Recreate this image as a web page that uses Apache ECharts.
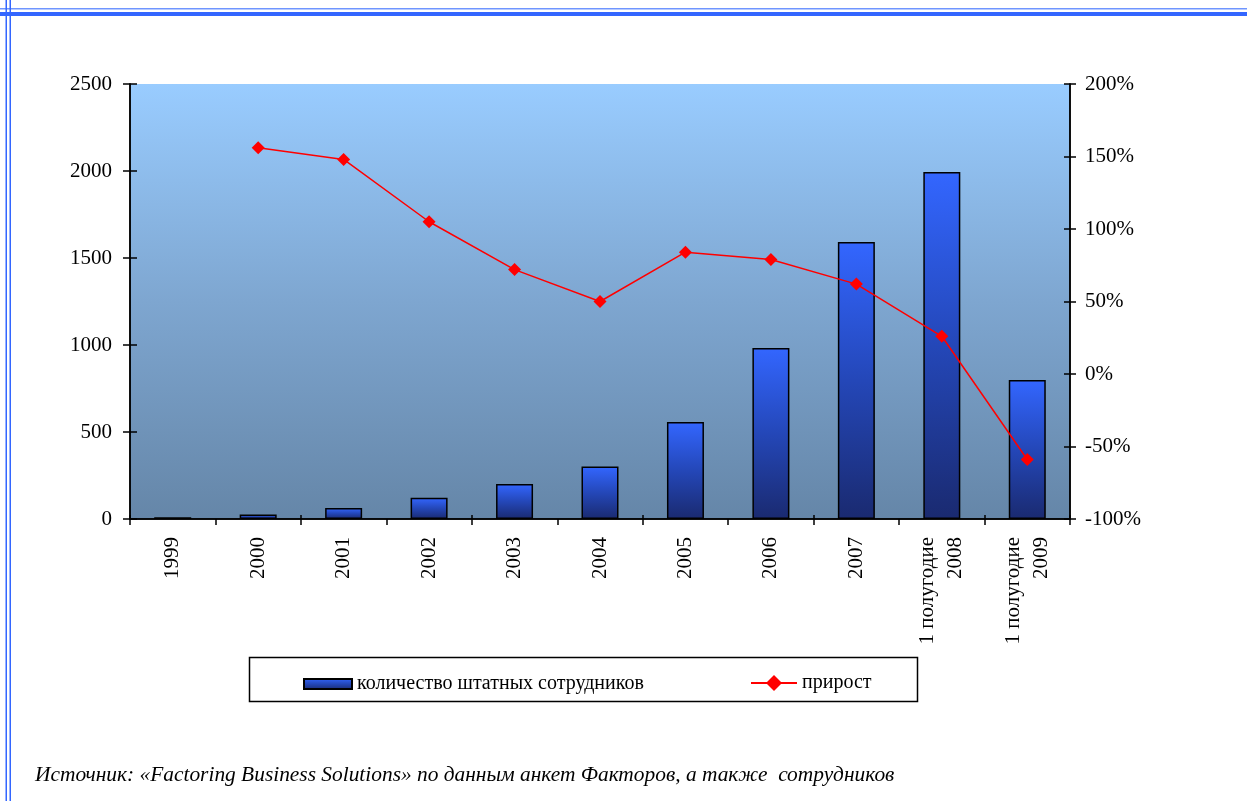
<!DOCTYPE html>
<html>
<head>
<meta charset="utf-8">
<script src="https://cdn.jsdelivr.net/npm/echarts@6/dist/echarts.min.js"></script>
<style>
  html, body { margin: 0; padding: 0; background: #ffffff; }
  #chart { width: 1247px; height: 801px; }
</style>
</head>
<body>
<div id="chart"></div>
<script>
// Categories (years / half-years)
const categories = ['1999', '2000', '2001', '2002', '2003', '2004', '2005', '2006', '2007',
  '1 полугодие\n2008', '1 полугодие\n2009'];
// Number of full-time employees
const staffCount = [10, 26, 63, 122, 201, 302, 557, 983, 1592, 1994, 799];
// Growth, %
const growthPct = [null, 156, 148, 105, 72, 50, 84, 79, 62, 26, -59];
// Axis tick settings
const leftAxis = { min: 0, max: 2500, interval: 500 };
const rightAxis = { min: -100, max: 200, interval: 50 };

const FONT = 'Liberation Serif';
const chart = echarts.init(document.getElementById('chart'), null, { renderer: 'canvas' });

const plotBox = { left: 130, right: 177, top: 84, bottom: 282 };

// Axis on the overlay grid that only draws short ticks on the inner side of the frame
const tickOnly = (extra, len) => Object.assign({
  gridIndex: 1,
  z: 6,
  axisLine: { show: true, onZero: false, lineStyle: { color: '#000', width: 1.5 } },
  axisLabel: { show: false },
  splitLine: { show: false },
  axisTick: { show: true, inside: true, length: len, lineStyle: { color: '#000', width: 1.5 } }
}, extra);

chart.setOption({
  animation: false,
  backgroundColor: '#ffffff',
  grid: [
    Object.assign({
      show: true,
      borderWidth: 0,
      z: 0,
      backgroundColor: {
        type: 'linear', x: 0, y: 0, x2: 0, y2: 1,
        colorStops: [
          { offset: 0, color: '#99ccff' },
          { offset: 0.5, color: '#7ea6d0' },
          { offset: 1, color: '#6586a8' }
        ]
      }
    }, plotBox),
    Object.assign({ show: false }, plotBox)
  ],
  legend: [
    {
      left: 303, top: 674, padding: 0,
      itemWidth: 48, itemHeight: 10,
      textStyle: { fontFamily: FONT, fontSize: 20, color: '#000' },
      data: [{ name: 'количество штатных сотрудников', icon: 'rect' }]
    },
    {
      left: 750, top: 673, padding: 0,
      itemWidth: 46, itemHeight: 20,
      textStyle: { fontFamily: FONT, fontSize: 20, color: '#000' },
      data: [{ name: 'прирост' }]
    }
  ],
  xAxis: [
    {
      type: 'category',
      gridIndex: 0,
      data: categories,
      boundaryGap: true,
      axisLine: { show: true, onZero: false, lineStyle: { color: '#000', width: 1.5 } },
      axisTick: { show: true, length: 6, lineStyle: { color: '#000', width: 1.5 } },
      axisLabel: {
        rotate: 90, margin: 18, interval: 0,
        fontFamily: FONT, fontSize: 21, color: '#000', lineHeight: 28
      },
      splitLine: { show: false }
    },
    tickOnly({ type: 'category', data: categories, boundaryGap: true, position: 'bottom' }, 4)
  ],
  yAxis: [
    {
      type: 'value', gridIndex: 0, position: 'left',
      min: leftAxis.min, max: leftAxis.max, interval: leftAxis.interval,
      axisLine: { show: true, lineStyle: { color: '#000', width: 1.5 } },
      axisTick: { show: true, length: 7, lineStyle: { color: '#000', width: 1.5 } },
      axisLabel: { margin: 18, formatter: (v) => String(v), fontFamily: FONT, fontSize: 21, color: '#000' },
      splitLine: { show: false }
    },
    {
      type: 'value', gridIndex: 0, position: 'right',
      min: rightAxis.min, max: rightAxis.max, interval: rightAxis.interval,
      axisLine: { show: true, lineStyle: { color: '#000', width: 1.5 } },
      axisTick: { show: true, length: 6, lineStyle: { color: '#000', width: 1.5 } },
      axisLabel: { margin: 15, formatter: '{value}%', fontFamily: FONT, fontSize: 21, color: '#000' },
      splitLine: { show: false }
    },
    tickOnly({ type: 'value', position: 'left', min: leftAxis.min, max: leftAxis.max, interval: leftAxis.interval }, 7),
    tickOnly({ type: 'value', position: 'right', min: rightAxis.min, max: rightAxis.max, interval: rightAxis.interval }, 6)
  ],
  series: [
    {
      name: 'количество штатных сотрудников',
      type: 'bar',
      xAxisIndex: 0,
      yAxisIndex: 0,
      barWidth: 37,
      data: staffCount,
      itemStyle: {
        color: {
          type: 'linear', x: 0, y: 0, x2: 0, y2: 1,
          colorStops: [
            { offset: 0, color: '#3366ff' },
            { offset: 0.5, color: '#2447b8' },
            { offset: 1, color: '#1a2a70' }
          ]
        },
        borderColor: '#000',
        borderWidth: 1.5
      }
    },
    {
      name: 'прирост',
      type: 'line',
      xAxisIndex: 0,
      yAxisIndex: 1,
      data: growthPct,
      symbol: 'diamond',
      symbolSize: 13,
      connectNulls: false,
      lineStyle: { color: '#ff0000', width: 1.5 },
      itemStyle: { color: '#ff0000' },
      z: 5
    },
    {
      // empty series that anchors the overlay grid carrying the inner ticks
      name: 'ticks',
      type: 'line',
      xAxisIndex: 1,
      yAxisIndex: 2,
      data: [],
      silent: true
    }
  ],
  graphic: [
    // page frame: double rule along the top and left edges
    { type: 'rect', shape: { x: 0, y: 8, width: 1247, height: 1.5 }, style: { fill: '#6f95ff' }, silent: true },
    { type: 'rect', shape: { x: 0, y: 12, width: 1247, height: 4 }, style: { fill: '#3366ff' }, silent: true },
    { type: 'rect', shape: { x: 5.5, y: 0, width: 1.5, height: 801 }, style: { fill: '#3366ff' }, silent: true },
    { type: 'rect', shape: { x: 9.5, y: 0, width: 1.5, height: 801 }, style: { fill: '#3366ff' }, silent: true },
    // legend frame
    { type: 'rect', shape: { x: 249.5, y: 657.5, width: 668, height: 44 },
      style: { fill: 'none', stroke: '#000', lineWidth: 1.5 }, silent: true },
    // source note
    { type: 'text', left: 35, top: 765,
      style: { text: 'Источник: «Factoring Business Solutions» по данным анкет Факторов, а также  сотрудников',
        fontFamily: FONT, fontStyle: 'italic', fontSize: 21.4, fill: '#000' } }
  ]
});
</script>
</body>
</html>
